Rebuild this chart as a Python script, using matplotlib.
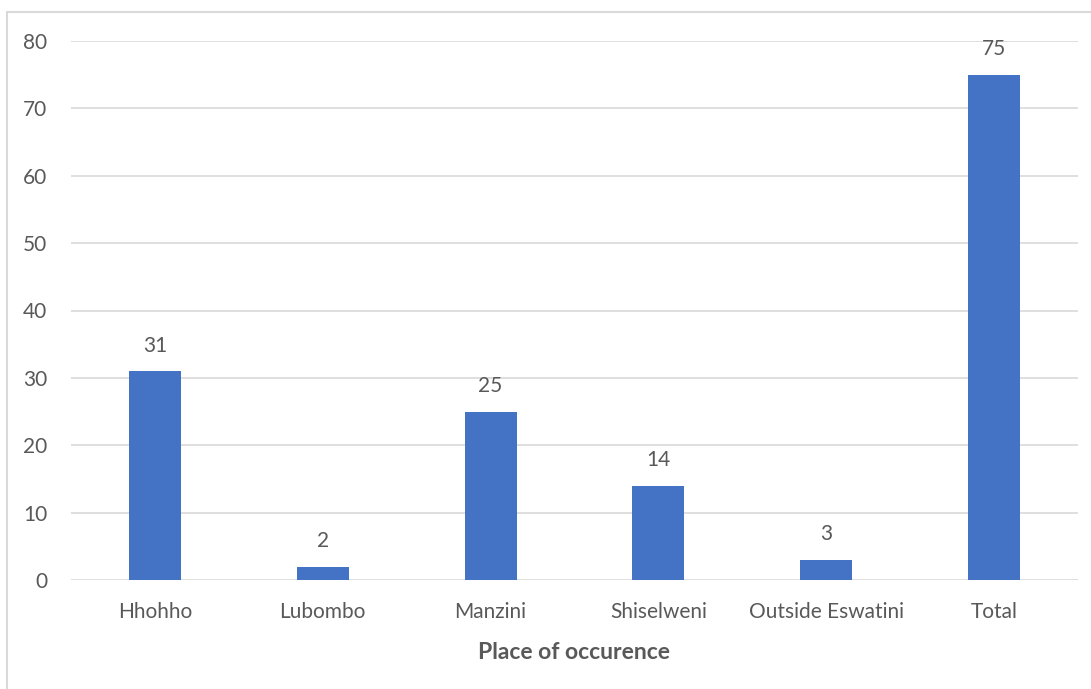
import matplotlib
matplotlib.use("Agg")
import matplotlib.pyplot as plt
from matplotlib.patches import Rectangle

places = ["Hhohho", "Lubombo", "Manzini", "Shiselweni", "Outside Eswatini", "Total"]
counts = [31, 2, 25, 14, 3, 75]
yticks = [0, 10, 20, 30, 40, 50, 60, 70, 80]

plt.rcParams['font.family'] = ['Lato', 'DejaVu Sans']
txt = '#595959'

W, H = 1091, 689
fig = plt.figure(figsize=(W / 100, H / 100), dpi=100)

# light chart-area border (only left/top edges are visible in the reference)
fig.patches.append(Rectangle((7 / W, -0.1), 1.2, 1 - 12 / H + 0.1,
                             transform=fig.transFigure, fill=False,
                             edgecolor='#D9D9D9', linewidth=1.5))

ax = fig.add_axes([71 / W, 1 - 580 / H, (1078 - 71) / W, (580 - 41) / H])
x = list(range(len(places)))
bars = ax.bar(x, counts, width=0.31, color='#4472C4', zorder=3)
for b, v in zip(bars, counts):
    ax.text(b.get_x() + b.get_width() / 2, v + 2.3, str(v), ha='center',
            va='bottom', fontsize=15, color=txt)

ax.set_xlim(-0.5, len(places) - 0.5)
ax.set_ylim(0, 80)
ax.set_yticks(yticks)
ax.set_xticks(x)
ax.set_xticklabels(places)
ax.yaxis.grid(True, color='#D9D9D9', linewidth=1.2, zorder=0)
for s in ax.spines.values():
    s.set_visible(False)
ax.tick_params(axis='both', length=0, labelsize=15, labelcolor=txt)
ax.tick_params(axis='y', pad=17)
ax.tick_params(axis='x', pad=16)
ax.set_xlabel("Place of occurence", fontsize=16.5, fontweight='bold',
              color=txt, labelpad=14)

fig.savefig("out.png", dpi=100)
